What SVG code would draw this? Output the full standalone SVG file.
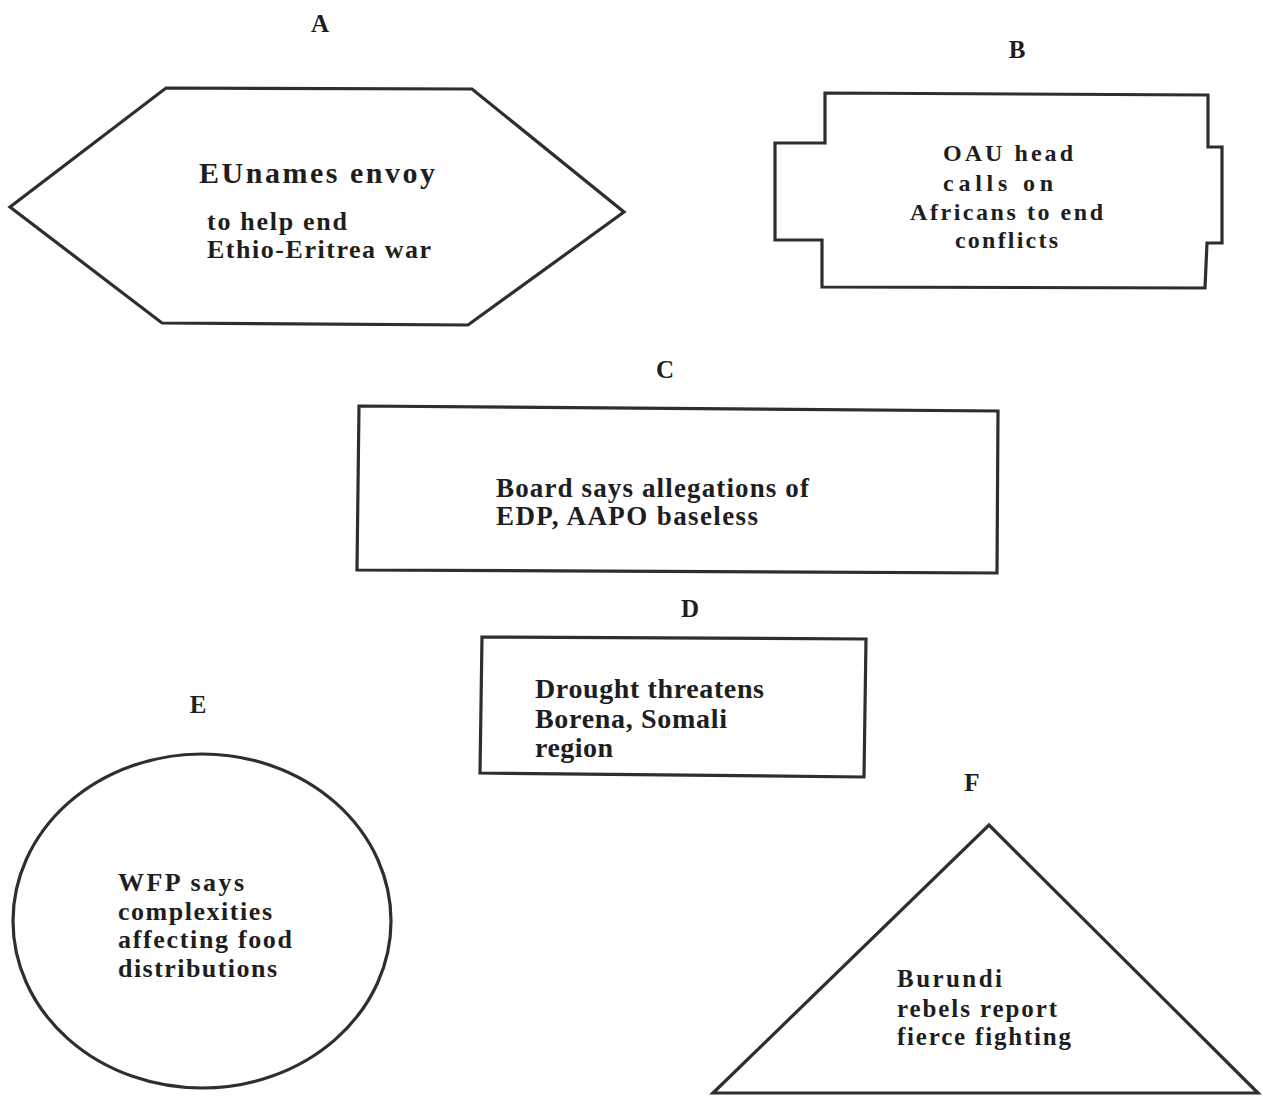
<svg xmlns="http://www.w3.org/2000/svg" width="1263" height="1099" viewBox="0 0 1263 1099">
<style>
.shape{fill:#fff;stroke:#2e2e2e;stroke-width:3.2;stroke-linejoin:miter}
.lbl{font-family:"Liberation Serif",serif;font-weight:bold;font-size:25px;fill:#1e1e1e;text-anchor:middle}
.t{font-family:"Liberation Serif",serif;font-weight:bold;fill:#1e1e1e}
</style>
<rect width="1263" height="1099" fill="#fff"/>
<g id="nodeA">
<text class="lbl" x="320" y="32">A</text>
<polygon class="shape" points="166,88 472,89 624,212 468,325 162,323 10,207"/>
<text class="t" x="199" y="183" font-size="30" textLength="236" lengthAdjust="spacing">EUnames envoy</text>
<text class="t" x="207" y="230" font-size="26" textLength="140" lengthAdjust="spacing">to help end</text>
<text class="t" x="207" y="258" font-size="26" textLength="224" lengthAdjust="spacing">Ethio-Eritrea war</text>
</g>
<g id="nodeB">
<text class="lbl" x="1017" y="58">B</text>
<polygon class="shape" points="825,93 1208,95 1208,147 1222,147 1222,243 1207,243 1205,288 822,287 822,240 775,240 775,143 825,143"/>
<text class="t" x="943" y="161" font-size="24" textLength="130" lengthAdjust="spacing">OAU head</text>
<text class="t" x="943" y="191" font-size="24" textLength="110" lengthAdjust="spacing">calls on</text>
<text class="t" x="910" y="220" font-size="24" textLength="193" lengthAdjust="spacing">Africans to end</text>
<text class="t" x="955" y="248" font-size="24" textLength="103" lengthAdjust="spacing">conflicts</text>
</g>
<g id="nodeC">
<text class="lbl" x="665" y="378">C</text>
<polygon class="shape" points="359,406 998,411 997,573 357,570"/>
<text class="t" x="496" y="497" font-size="27" textLength="313" lengthAdjust="spacing">Board says allegations of</text>
<text class="t" x="496" y="525" font-size="27" textLength="262" lengthAdjust="spacing">EDP, AAPO baseless</text>
</g>
<g id="nodeD">
<text class="lbl" x="690" y="617">D</text>
<polygon class="shape" points="482,637 866,639 864,777 480,773"/>
<text class="t" x="535" y="698" font-size="28" textLength="229" lengthAdjust="spacing">Drought threatens</text>
<text class="t" x="535" y="728" font-size="28" textLength="192" lengthAdjust="spacing">Borena, Somali</text>
<text class="t" x="535" y="757" font-size="28" textLength="78" lengthAdjust="spacing">region</text>
</g>
<g id="nodeE">
<text class="lbl" x="198" y="713">E</text>
<ellipse class="shape" cx="202" cy="921" rx="189" ry="167"/>
<text class="t" x="118" y="891" font-size="26" textLength="126" lengthAdjust="spacing">WFP says</text>
<text class="t" x="118" y="920" font-size="26" textLength="154" lengthAdjust="spacing">complexities</text>
<text class="t" x="118" y="948" font-size="26" textLength="174" lengthAdjust="spacing">affecting food</text>
<text class="t" x="118" y="977" font-size="26" textLength="159" lengthAdjust="spacing">distributions</text>
</g>
<g id="nodeF">
<text class="lbl" x="972" y="791">F</text>
<polygon class="shape" points="989,825 1258,1093 713,1093"/>
<text class="t" x="897" y="987" font-size="25" textLength="105" lengthAdjust="spacing">Burundi</text>
<text class="t" x="897" y="1017" font-size="25" textLength="160" lengthAdjust="spacing">rebels report</text>
<text class="t" x="897" y="1045" font-size="25" textLength="174" lengthAdjust="spacing">fierce fighting</text>
</g>
<g id="connectors"/>
</svg>
